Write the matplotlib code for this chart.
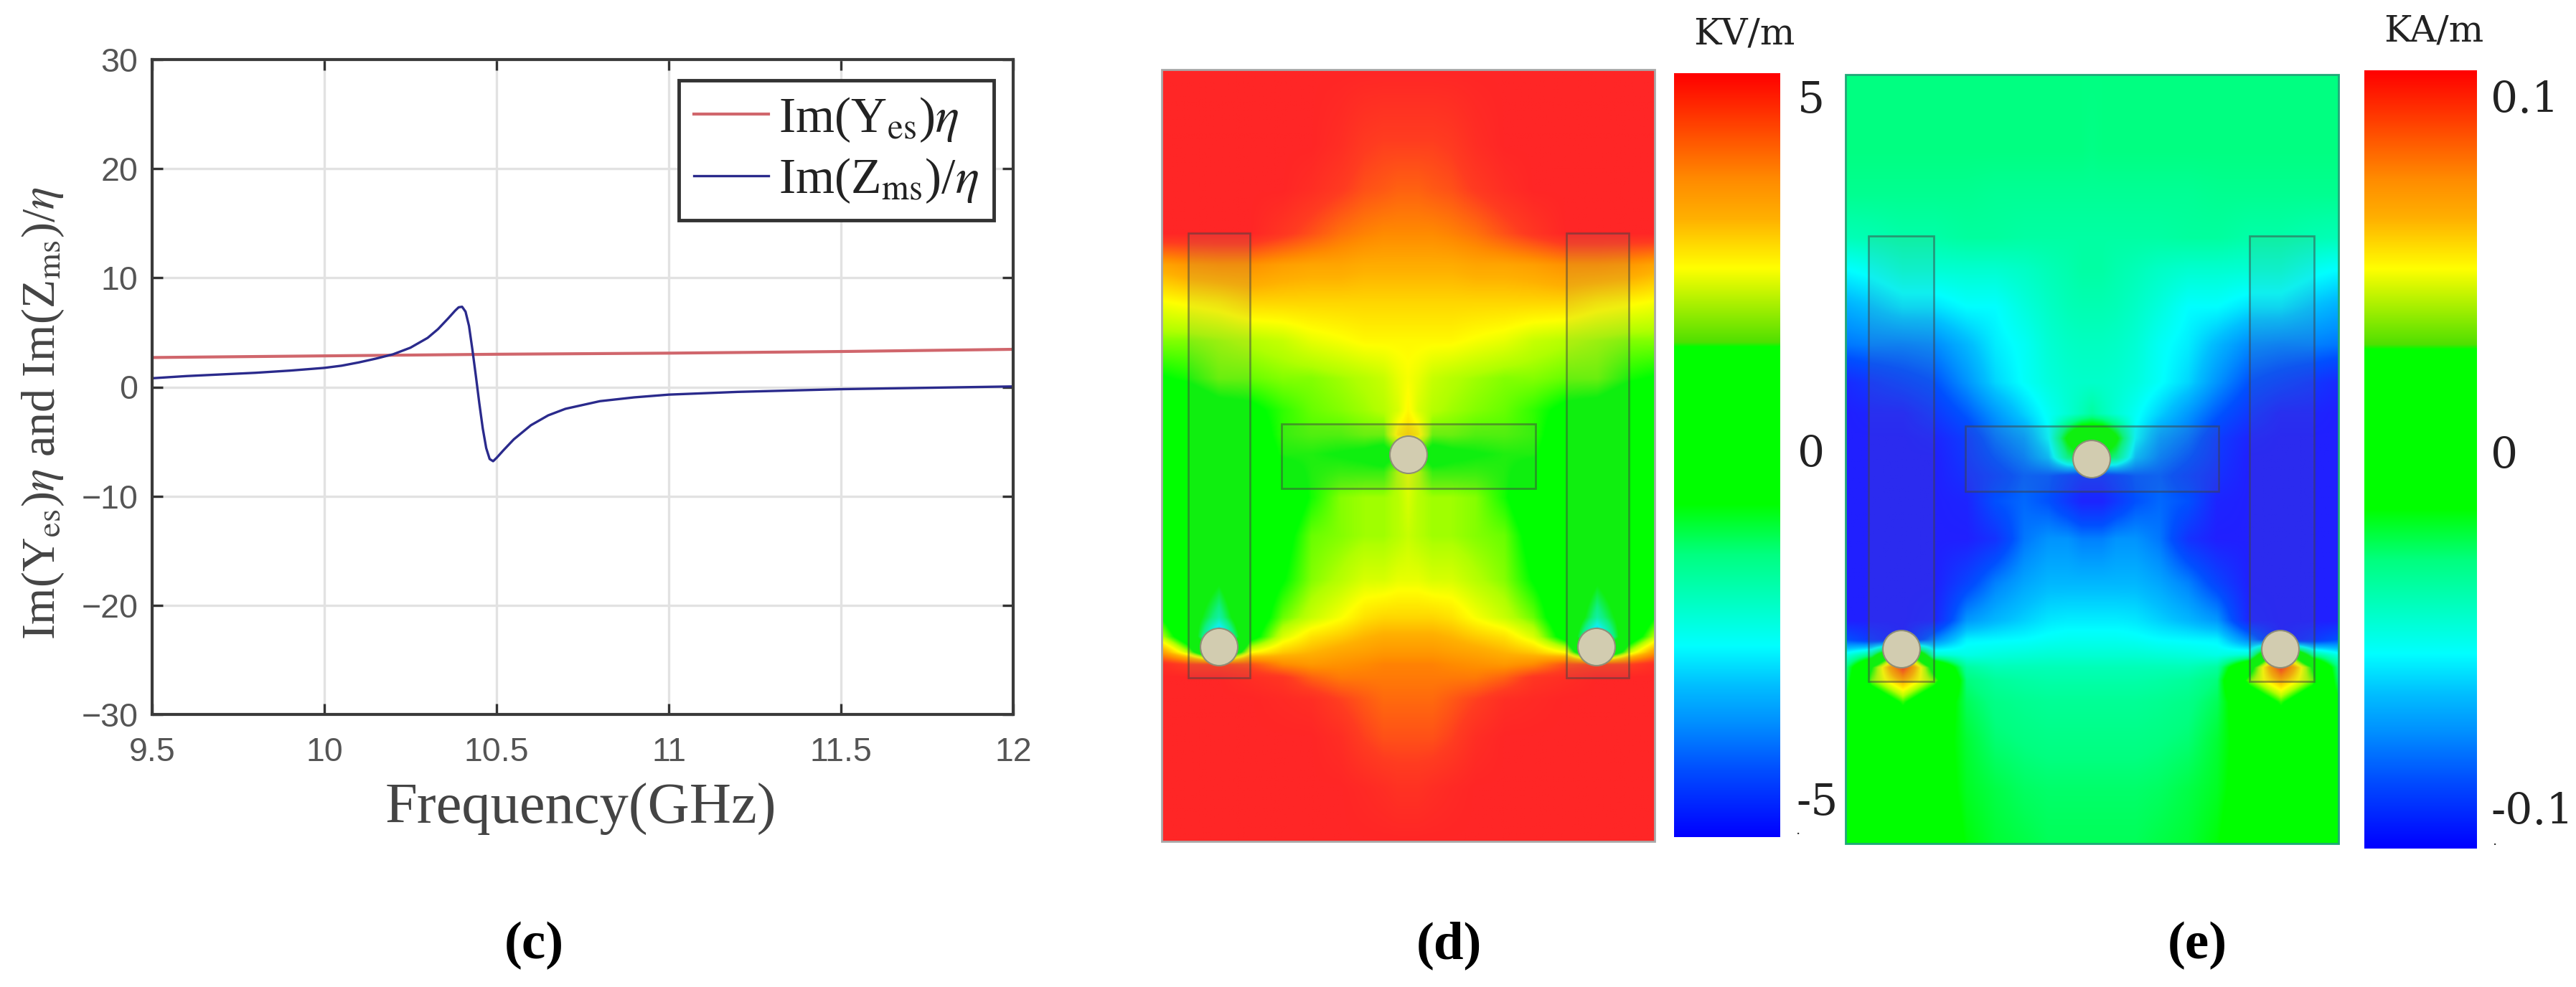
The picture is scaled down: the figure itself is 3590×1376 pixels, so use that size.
import numpy as np
import matplotlib
matplotlib.use("Agg")
import matplotlib.pyplot as plt
from matplotlib.colors import LinearSegmentedColormap, Normalize
from matplotlib.patches import Rectangle, Ellipse

W, H = 3591, 1376
plt.rcParams['mathtext.fontset'] = 'stix'

# ---------- panel (c) data ----------
freq_y = [9.5, 10.0, 10.5, 11.0, 11.5, 12.0]
im_y = [2.7, 2.85, 3.0, 3.1, 3.25, 3.45]
freq_z = [9.5, 9.6, 9.7, 9.8, 9.9, 10.0, 10.05, 10.1, 10.15, 10.2, 10.25, 10.3, 10.33, 10.36, 10.38,
          10.39, 10.4, 10.41, 10.42, 10.43, 10.44, 10.45, 10.46, 10.47, 10.48, 10.49, 10.5, 10.52, 10.55,
          10.6, 10.65, 10.7, 10.8, 10.9, 11.0, 11.2, 11.5, 11.8, 12.0]
im_z = [0.8, 1.0, 1.15, 1.3, 1.5, 1.75, 1.95, 2.25, 2.6, 3.0, 3.6, 4.5, 5.3, 6.3, 7.0,
        7.3, 7.35, 6.9, 5.6, 3.4, 1.0, -1.5, -3.8, -5.6, -6.6, -6.8, -6.5, -5.8, -4.8,
        -3.5, -2.6, -2.0, -1.3, -0.95, -0.7, -0.45, -0.2, -0.05, 0.05]
x_ticks = [9.5, 10, 10.5, 11, 11.5, 12]
x_tick_labels = ['9.5', '10', '10.5', '11', '11.5', '12']
y_ticks = [-30, -20, -10, 0, 10, 20, 30]

# ---------- field grids (left half, mirrored about the centre line) ----------
col_frac = [0, .105, .232, .359, .491, .608, .725, .823, .901, .959, 1]
row_frac = [0, .098, .155, .212, .253, .302, .351, .400, .441, .473, .498, .522, .555, .604,
            .661, .710, .735, .755, .771, .788, .816, .865, .931, 1]

e_field_kv = [
 [5.4]*11,
 [5.4, 5.4, 5.4, 5.4, 5.4, 5.4, 5.2, 4.9, 4.8, 4.8, 4.8],
 [5.4, 5.4, 5.4, 5.4, 5.4, 5.2, 4.9, 4.6, 4.5, 4.4, 4.4],
 [5.4, 5.4, 5.4, 5.4, 5.0, 4.6, 4.2, 4.0, 3.9, 3.9, 3.9],
 [3.5, 3.7, 3.8, 3.8, 3.6, 3.5, 3.5, 3.4, 3.4, 3.4, 3.4],
 [2.6, 2.7, 2.8, 3.0, 3.0, 3.0, 3.0, 3.0, 3.0, 3.0, 3.0],
 [2.0, 2.0, 2.1, 2.2, 2.3, 2.5, 2.6, 2.7, 2.7, 2.7, 2.7],
 [1.5, 1.6, 1.9, 1.9, 2.0, 2.0, 2.1, 2.2, 2.3, 2.5, 2.6],
 [1.0, 1.0, 1.3, 1.4, 1.7, 1.9, 2.0, 2.1, 2.2, 2.4, 2.7],
 [1.0, 1.0, 1.0, 1.2, 1.7, 1.8, 1.8, 1.9, 1.9, 2.8, 3.0],
 [1.0, 1.0, 1.0, 1.1, 1.6, 1.6, 1.5, 1.4, 1.2, 1.5, 1.5],
 [1.0, 1.0, 1.0, 1.0, 1.3, 1.6, 1.7, 1.7, 1.7, 2.2, 2.5],
 [1.0, 1.0, 1.0, 1.0, 1.0, 1.6, 2.0, 2.1, 2.1, 2.2, 2.4],
 [1.0, 1.0, 1.0, 1.0, 1.3, 1.9, 2.0, 2.1, 2.1, 2.2, 2.3],
 [0.9, 0.5, -.5, 1.0, 1.5, 2.0, 2.2, 2.4, 2.4, 2.5, 2.5],
 [1.5, 0.2, -1.8, 1.0, 1.9, 2.3, 2.6, 2.9, 3.0, 3.0, 3.0],
 [2.2, 0.8, -4.0, 1.2, 2.4, 2.9, 3.1, 3.3, 3.4, 3.4, 3.4],
 [3.6, 2.2, -1.0, 2.6, 3.1, 3.3, 3.5, 3.6, 3.7, 3.7, 3.7],
 [5.2, 4.8, 4.8, 4.6, 3.9, 3.7, 3.8, 3.9, 4.0, 4.0, 4.0],
 [5.4, 5.4, 5.4, 5.2, 5.0, 4.4, 4.1, 4.1, 4.1, 4.1, 4.1],
 [5.4, 5.4, 5.4, 5.4, 5.3, 5.2, 4.8, 4.5, 4.3, 4.3, 4.3],
 [5.4, 5.4, 5.4, 5.4, 5.4, 5.4, 5.2, 4.8, 4.6, 4.6, 4.6],
 [5.4, 5.4, 5.4, 5.4, 5.4, 5.4, 5.4, 5.3, 5.2, 5.1, 5.1],
 [5.4]*11,
]

# in 0.01 KA/m
h_field_ka100 = [
 [-2.9]*11,
 [-2.9]*10 + [-3.0],
 [-3.2]*5 + [-3.3]*6,
 [-4.0, -3.9, -3.7, -3.7, -3.5, -3.5, -3.6, -3.6, -3.6, -3.6, -3.6],
 [-5.5, -5.2, -4.6, -4.6, -4.5, -4.5, -4.3, -4.0, -3.8, -3.6, -3.6],
 [-7.0, -6.6, -6.0, -6.0, -5.5, -5.5, -4.8, -4.3, -4.0, -3.9, -3.9],
 [-8.2, -8.0, -8.0, -7.8, -6.8, -5.8, -5.3, -4.6, -4.3, -4.2, -4.2],
 [-10.5, -10., -9.5, -9.0, -7.6, -6.2, -5.4, -4.8, -4.5, -4.4, -4.4],
 [-11., -10.8, -10.8, -10., -8.8, -7.5, -6.3, -5.3, -4.6, -4.0, -3.5],
 [-11., -11., -11., -10.8, -9.8, -8.3, -7.4, -5.6, -1.0, 1.5, 1.5],
 [-11., -11., -11., -11., -10., -8.9, -8.0, -6.6, -3.0, -2.0, -2.0],
 [-11., -11., -11., -11., -10.3, -9.5, -8.7, -8.8, -9.5, -10., -10.],
 [-11., -11., -11., -11., -10.8, -9.0, -8.5, -9.0, -10., -10.8, -10.8],
 [-11., -11., -11., -11., -11., -10.2, -8.2, -7.6, -7.6, -8.0, -8.0],
 [-11., -11., -11., -11., -9.5, -8.0, -7.2, -6.8, -6.8, -6.8, -6.8],
 [-11., -11., -11., -10.8, -7.5, -6.8, -6.3, -5.9, -5.8, -5.8, -5.8],
 [-9.0, -10., -11., -8.0, -5.7, -5.6, -5.5, -5.3, -5.2, -5.2, -5.2],
 [-5.0, -3.0, 7.0, -4.5, -5.0, -4.8, -4.7, -4.6, -4.6, -4.6, -4.6],
 [-3.0, 3.0, 10., 2.0, -3.5, -4.0, -4.0, -4.0, -4.0, -4.0, -4.0],
 [-2.5, 4.0, 7.0, 4.0, -2.8, -3.4, -3.6, -3.7, -3.7, -3.7, -3.7],
 [-1.0, 0.5, 3.5, 0.5, -2.4, -3.0, -3.2, -3.3, -3.3, -3.3, -3.3],
 [0.0, 0.0, 0.0, -.5, -2.0, -2.7, -2.9, -3.0, -3.0, -3.0, -3.0],
 [0.0, 0.0, 0.0, -.5, -1.8, -2.2, -2.5, -2.6, -2.6, -2.6, -2.6],
 [0.0, 0.0, 0.0, 0.0, -1.5, -2.0, -2.2, -2.4, -2.4, -2.4, -2.4],
]

# ---------- colour maps ----------
bar_stops = [(0, '#0000ff'), (.09, '#0050ff'), (.15, '#0090ff'), (.20, '#00c0ff'), (.25, '#00ffff'),
             (.31, '#00ffc0'), (.37, '#00ff80'), (.436, '#00ff00'), (.642, '#00ff00'), (.648, '#50e000'),
             (.745, '#ffff00'), (.81, '#ffb000'), (.86, '#ff8c00'), (.95, '#ff3000'), (1, '#ff0000')]
field_stops = [(0, '#2020ff'), (.09, '#0050ff'), (.15, '#0090ff'), (.20, '#00c0ff'), (.25, '#00ffff'),
               (.31, '#00ffc0'), (.37, '#00ff80'), (.436, '#00ff00'), (.642, '#00ff00'), (.70, '#b0ff00'),
               (.745, '#ffff00'), (.81, '#ffb000'), (.86, '#ff8c00'), (.95, '#ff3c20'), (1, '#ff2626')]
bar_cmap = LinearSegmentedColormap.from_list('bar', bar_stops, N=1024)
field_cmap = LinearSegmentedColormap.from_list('field', field_stops, N=1024)


def resample(grid, nx=700, ny=1100):
    g = np.asarray(grid, float)
    cols = np.r_[np.array(col_frac) / 2, 1 - np.array(col_frac[-2::-1]) / 2]
    full = np.hstack([g, g[:, -2::-1]])
    xs, ys = np.linspace(0, 1, nx), np.linspace(0, 1, ny)
    a = np.array([np.interp(xs, cols, r) for r in full])
    return np.array([np.interp(ys, row_frac, c) for c in a.T]).T


fig = plt.figure(figsize=(W / 100, H / 100), dpi=100, facecolor='white')

# ---------- overlay axes in image pixels ----------
ov = fig.add_axes([0, 0, 1, 1])
ov.set_xlim(0, W)
ov.set_ylim(H, 0)
ov.axis('off')


def field_panel(grid, vmax, box, frame, rects, circles):
    x0, x1, y0, y1 = box
    ov.imshow(resample(grid), extent=(x0, x1, y1, y0), cmap=field_cmap, norm=Normalize(-vmax, vmax),
              aspect='auto', interpolation='bilinear', zorder=1)
    ov.add_patch(Rectangle((x0, y0), x1 - x0, y1 - y0, fc='none', ec=frame, lw=2, zorder=2))
    for rx0, rx1, ry0, ry1 in rects:
        ov.add_patch(Rectangle((rx0, ry0), rx1 - rx0, ry1 - ry0, fc=(.5, .5, .5, .12),
                               ec=(.25, .25, .25, .5), lw=2, zorder=3))
    for cx, cy in circles:
        ov.add_patch(Ellipse((cx, cy), 52, 52, fc='#d2ccb0', ec='#8f8f78', lw=1.5, zorder=4))


def colorbar(box):
    x0, x1, y0, y1 = box
    ov.imshow(np.linspace(1, 0, 1024)[:, None], extent=(x0, x1, y1, y0), cmap=bar_cmap, vmin=0, vmax=1,
              aspect='auto', zorder=1)


field_panel(e_field_kv, 5.4, (1619, 2306, 97, 1173), '#a8a8a8',
            [(1656, 1742, 325, 945), (1786, 2140, 591, 681), (2183, 2270, 325, 945)],
            [(1699, 902), (1963, 634), (2225, 902)])
field_panel(h_field_ka100, 11.0, (2572, 3259, 104, 1176), '#20a878',
            [(2604, 2695, 329, 950), (2739, 3092, 594, 685), (3135, 3225, 329, 950)],
            [(2650, 905), (2915, 640), (3178, 905)])
colorbar((2333, 2481, 102, 1167))
colorbar((3295, 3452, 98, 1183))
ov.set_xlim(0, W)
ov.set_ylim(H, 0)

sf = dict(family='DejaVu Serif', color='#222222', zorder=6)
ov.text(2431, 48, 'KV/m', ha='center', va='center', fontsize=37, **sf)
ov.text(2505, 140, '5', ha='left', va='center', fontsize=43, **sf)
ov.text(2505, 634, '0', ha='left', va='center', fontsize=43, **sf)
ov.text(2503, 1119, '-5', ha='left', va='center', fontsize=43, **sf)
ov.text(2505, 1158, '.', ha='center', va='center', fontsize=14, **sf)
ov.text(3392, 44, 'KA/m', ha='center', va='center', fontsize=37, **sf)
ov.text(3471, 140, '0.1', ha='left', va='center', fontsize=43, **sf)
ov.text(3471, 636, '0', ha='left', va='center', fontsize=43, **sf)
ov.text(3471, 1132, '-0.1', ha='left', va='center', fontsize=43, **sf)
ov.text(3476, 1173, '.', ha='center', va='center', fontsize=14, **sf)

bb = dict(family='Liberation Serif', color='black', ha='center', va='center', fontsize=54, fontweight='bold')
ov.text(744, 1318, '(c)', **bb)
ov.text(2019, 1318, '(d)', **bb)
ov.text(3062, 1318, '(e)', **bb)

# ---------- panel (c) ----------
ax = fig.add_axes([212 / W, 1 - 996 / H, 1200 / W, 913 / H], zorder=3)
ax.set_xlim(9.5, 12)
ax.set_ylim(-30, 30)
ax.set_xticks(x_ticks, x_tick_labels)
ax.set_yticks(y_ticks)
ax.grid(True, color='#e2e2e2', lw=2.4)
ax.set_axisbelow(True)
ax.tick_params(direction='in', length=11, width=2.4, color='#333333', top=True, right=True,
               labelsize=33.5, labelcolor='#555555')
ax.tick_params(axis='x', pad=22)
ax.tick_params(axis='y', pad=14)
for lab in ax.get_xticklabels() + ax.get_yticklabels():
    lab.set_family('Liberation Sans')
for s in ax.spines.values():
    s.set_linewidth(3)
    s.set_color('#3a3a3a')
ax.plot(freq_y, im_y, color='#d0666c', lw=3.0, label=r'Im(Y$_{\mathrm{es}}$)$\eta$', clip_on=True)
ax.plot(freq_z, im_z, color='#2a2a8c', lw=2.4, label=r'Im(Z$_{\mathrm{ms}}$)/$\eta$', clip_on=True)
leg = ax.legend(loc='upper right', bbox_to_anchor=(1385 / 1200 - 212 / 1200, 1 - 29 / 913), borderaxespad=0,
                fancybox=False, framealpha=1, edgecolor='#333333',
                prop={'family': 'Liberation Serif', 'size': 50}, handlelength=1.5, handletextpad=0.2,
                labelspacing=0.25, borderpad=0.3, labelcolor='#222222')
leg.get_frame().set_linewidth(3.5)
ax.set_xlabel('Frequency(GHz)', family='Liberation Serif', fontsize=58, color='#444444')
ax.xaxis.set_label_coords((809 - 212) / 1200, -(1128 - 996) / 913, transform=ax.transAxes)
ax.xaxis.label.set_va('center')
ax.set_ylabel(r'Im(Y$_{\mathrm{es}}$)$\eta$ and Im(Z$_{\mathrm{ms}}$)/$\eta$', family='Liberation Serif',
              fontsize=47.5, color='#444444')
ax.yaxis.set_label_coords(-(212 - 60) / 1200, (996 - 576) / 913, transform=ax.transAxes)
ax.yaxis.label.set_va('center')

fig.savefig('out.png', dpi=100, facecolor='white')
